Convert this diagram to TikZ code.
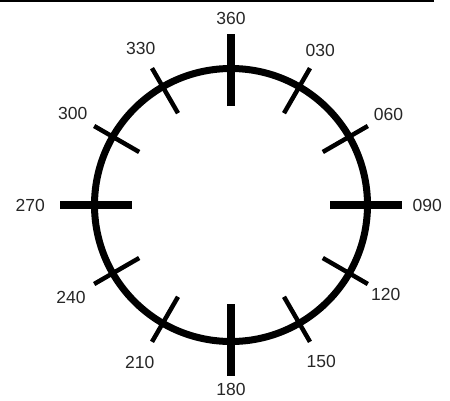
\documentclass[tikz,border=0pt]{standalone}
\usepackage{fontspec}
\setmainfont{Liberation Sans}
\usetikzlibrary{positioning}

\begin{document}
\begin{tikzpicture}[x=1pt,y=1pt,
  dial/.style={line width=7pt},
  major/.style={line width=8pt},
  minor/.style={line width=4.5pt},
  bearing/.style={inner sep=0pt,text=black!85,font=\fontsize{17.5}{17.5}\selectfont}]
  \def\R{136.5}
  \useasboundingbox (-231,-195) rectangle (219,205);
  \draw[line width=2pt] (-231,204) -- (203,204);
  \draw[dial] (0,0) circle (\R);
  % cardinal marks
  \foreach \b/\lab/\r in {0/360/180,90/090/181.5,180/180/178,270/270/186}{
    \pgfmathtruncatemacro\opp{mod(270-\b+360,360)}
    \draw[major] (90-\b:99) -- (90-\b:171);
    \node[bearing,anchor=\opp] (l\lab) at (90-\b:\r) {\lab};
  }
  % 30 degree marks
  \foreach \b/\lab/\r in {30/030/171,60/060/169,120/120/166,150/150/173,
      210/210/175,240/240/172,300/300/170,330/330/173}{
    \pgfmathtruncatemacro\opp{mod(270-\b+360,360)}
    \draw[minor] (90-\b:106) -- (90-\b:158);
    \node[bearing,anchor=\opp] (l\lab) at (90-\b:\r) {\lab};
  }
\end{tikzpicture}
\end{document}
